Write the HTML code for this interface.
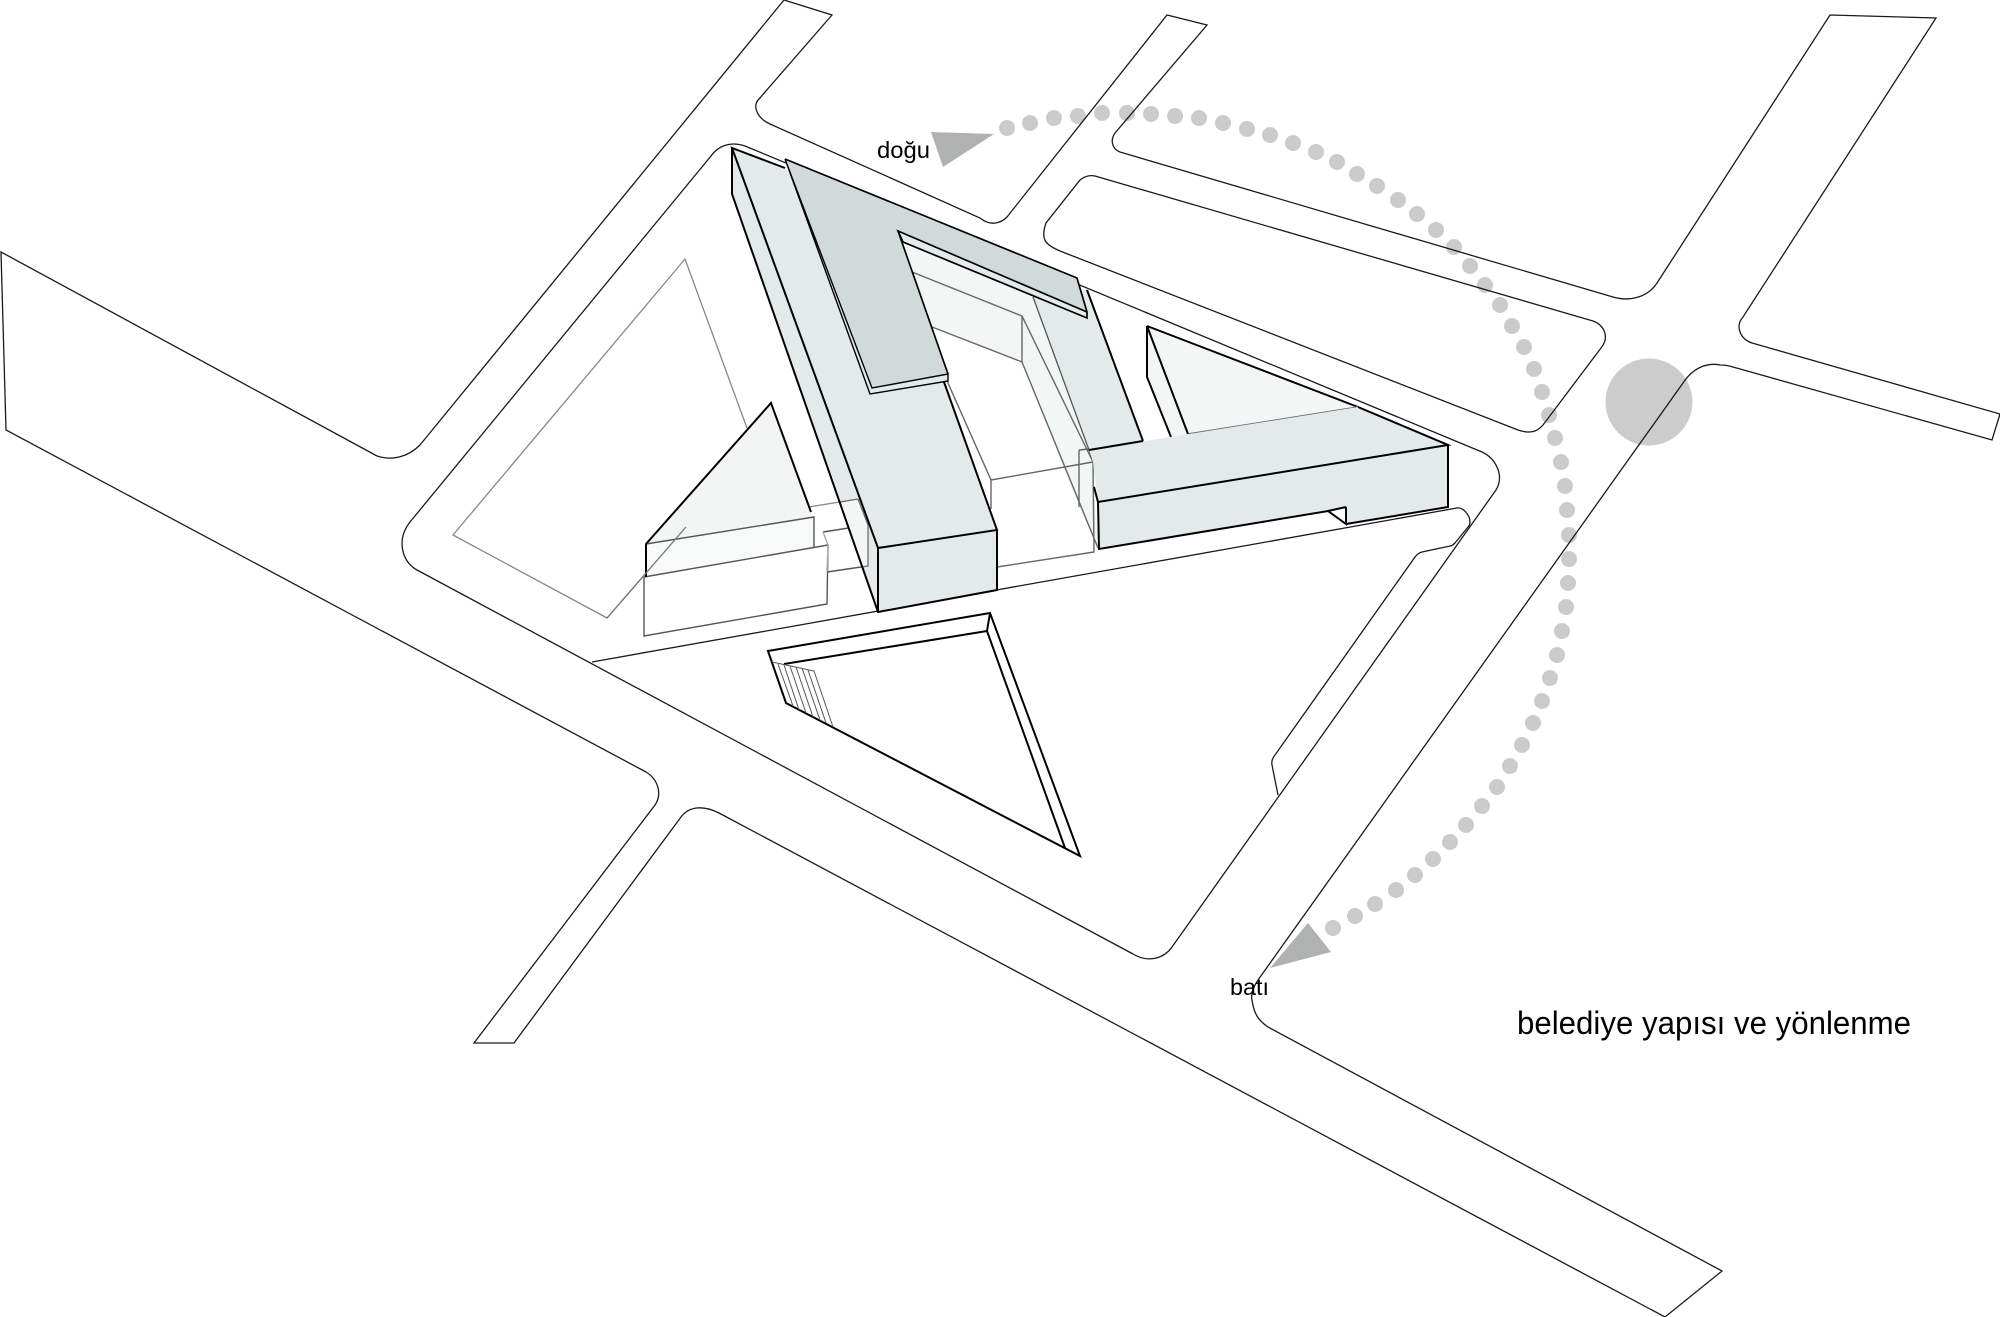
<!DOCTYPE html>
<html><head><meta charset="utf-8"><style>html,body{margin:0;padding:0;background:#fff}svg{display:block}text{font-family:"Liberation Sans",sans-serif;fill:#000}</style></head>
<body>
<svg width="2000" height="1317" viewBox="0 0 2000 1317" xmlns="http://www.w3.org/2000/svg">
<rect width="2000" height="1317" fill="#fff"/>
<circle cx="1649" cy="402" r="43.5" fill="#cccccc"/>
<!-- dots -->
<g fill="#cbcbcb">
<circle cx="1007" cy="128" r="8"/><circle cx="1030" cy="123" r="8"/><circle cx="1054" cy="118" r="8"/><circle cx="1078" cy="116" r="8"/><circle cx="1102" cy="113" r="8"/><circle cx="1127" cy="113" r="8"/><circle cx="1151" cy="114" r="8"/><circle cx="1175" cy="116" r="8"/><circle cx="1199" cy="118" r="8"/><circle cx="1223" cy="123" r="8"/><circle cx="1247" cy="129" r="8"/><circle cx="1270" cy="135" r="8"/><circle cx="1293" cy="143" r="8"/><circle cx="1316" cy="152" r="8"/><circle cx="1337" cy="162" r="8"/><circle cx="1357" cy="174" r="8"/><circle cx="1377" cy="186" r="8"/><circle cx="1398" cy="200" r="8"/><circle cx="1417" cy="214" r="8"/><circle cx="1436" cy="230" r="8"/><circle cx="1454" cy="247" r="8"/><circle cx="1470" cy="266" r="8"/><circle cx="1485" cy="285" r="8"/><circle cx="1500" cy="305" r="8"/><circle cx="1512" cy="326" r="8"/><circle cx="1524" cy="347" r="8"/><circle cx="1534" cy="369" r="8"/><circle cx="1542" cy="392" r="8"/><circle cx="1549" cy="415" r="8"/><circle cx="1555" cy="438" r="8"/><circle cx="1561" cy="462" r="8"/><circle cx="1565" cy="486" r="8"/><circle cx="1567" cy="510" r="8"/><circle cx="1569" cy="535" r="8"/><circle cx="1569" cy="559" r="8"/><circle cx="1568" cy="583" r="8"/><circle cx="1566" cy="607" r="8"/><circle cx="1562" cy="631" r="8"/><circle cx="1557" cy="655" r="8"/><circle cx="1550" cy="678" r="8"/><circle cx="1542" cy="701" r="8"/><circle cx="1533" cy="723" r="8"/><circle cx="1522" cy="745" r="8"/><circle cx="1510" cy="766" r="8"/><circle cx="1497" cy="787" r="8"/><circle cx="1482" cy="806" r="8"/><circle cx="1466" cy="825" r="8"/><circle cx="1450" cy="842" r="8"/><circle cx="1433" cy="859" r="8"/><circle cx="1415" cy="875" r="8"/><circle cx="1396" cy="890" r="8"/><circle cx="1375" cy="904" r="8"/><circle cx="1355" cy="916" r="8"/><circle cx="1333" cy="928" r="8"/>
</g>
<g fill="none" stroke="#1a1a1a" stroke-width="1.3">
<path d="M1 252L6 430L646 772C659 780 662 795 655 805L474 1043L514 1043L681 817C690 805 705 806 719 813L1665 1317L1722 1271L1268 1027C1258 1020 1254 1014 1252 1000Q1250 992 1258 980L1683 383C1692 369 1706 362 1720 365Q1727 365 1733 367L1992 440L2000 414L1752 343C1740 339 1735 326 1743 317L1936 18L1830 15L1657 283C1648 297 1630 302 1613 297L1120 152C1112 149 1110 140 1115 133L1207 25L1167 15L1007 217C1000 224 990 226 980 218L770 124C757 118 752 106 759 99L832 15L784 0L420 445C408 457 392 461 377 456Z"/>
<path d="M711 156C718 146 730 141 745 146L1482 452C1495 458 1505 475 1496 490L1172 947C1165 957 1150 964 1133 954L417 570C402 562 396 540 410 522Z"/>
<path d="M1080 180C1085 176 1090 175 1095 176L1593 321C1604 325 1610 337 1601 348L1543 425C1537 432 1530 434 1518 430L1060 251C1046 245 1040 240 1046 223Z"/>
<path d="M592 662L1457 508C1463 507 1470 515 1470 522Q1470 525 1468 527L1455 543Q1452 546 1450 546L1422 552Q1418 553 1415 557L1275 755Q1271 760 1272 765L1278 795"/>
</g>
<!-- left gray site outline -->
<path d="M747 428L685 259L453 535L607 618L686 527L858 499" fill="none" stroke="#888" stroke-width="1.3"/>
<!-- left building -->
<path d="M771 403L646 544L646 577L814 547L814 517L810 509Z" fill="#f2f5f4"/>
<path d="M646 544L814 517L814 547L644 577Z" fill="#f8faf9"/>
<g fill="none" stroke="#555" stroke-width="1.4">
<path d="M644 577L644 636L827 604L828 545L644 577"/>
<path d="M646 544L814 517L814 547"/>
<path d="M823 532L868 525L868 566L827 572"/>
<path d="M823 532L828 545" stroke="#aaa"/>
<path d="M828 545L827 572" stroke="#aaa"/>
</g>
<path d="M646 577L646 544L771 403L811 512" fill="none" stroke="#000" stroke-width="2"/>
<path d="M686 527L607 618" stroke="#777" stroke-width="1.3" fill="none"/>
<!-- courtyard glass -->
<path d="M903 242L1032 296L1091 451L1098 548L1079 507L1022 362L932 327Z" fill="#f2f6f5"/>
<g fill="none" stroke="#666" stroke-width="1.4">
<path d="M912 272L1022 316L1093 462L1094 552L997 567"/>
<path d="M932 327L1022 362L1098 548M1022 316L1022 362"/>
<path d="M1079 450L1079 507M1079 450L1089 449"/>
<path d="M944 374L991 480L991 509M991 480L1093 462"/>
</g>
<!-- right arm -->
<path d="M1033 297L1087 290L1143 441L1089 450Z" fill="#e4eaea"/>
<path d="M1033 297L1089 450L1093 462" fill="none" stroke="#555" stroke-width="1.3"/>
<path d="M1087 290L1143 441" fill="none" stroke="#000" stroke-width="2"/>
<!-- rear triangle -->
<path d="M1147 326L1147 377L1171 437L1188 434L1358 407Z" fill="#f2f6f5"/>
<path d="M1171 437L1147 377L1147 326L1188 434M1147 326L1358 407" fill="none" stroke="#000" stroke-width="2"/>
<path d="M1188 434L1358 407" fill="none" stroke="#666" stroke-width="1.4"/>
<!-- main building -->
<path d="M732 148L732 194L878 612L997 590L997 530L944 382L785 168Z" fill="#e4eaea"/>
<path d="M840 502L858 499L868 525L868 566L861 567Z" fill="#f2f6f5"/>
<path d="M840 502L858 499M868 525L868 566L861 567M858 499L868 525" fill="none" stroke="#666" stroke-width="1.2"/>
<path d="M785 168L732 148L878 548L997 530L944 382M732 148L732 194L878 612L997 590L997 530M878 548L878 612" fill="none" stroke="#000" stroke-width="2"/>
<!-- green roof -->
<path d="M785 159L1077 278L1087 312L898 231L948 374L872 388Z" fill="#d0dbd9"/>
<path d="M898 231L1087 312L1087 318L903 242Z" fill="#e4eaea"/>
<path d="M785 159L872 388L948 374L948 381L870 394Z" fill="#e4eaea"/>
<path d="M785 159L872 388L948 374L948 381L870 394L785 159" fill="none" stroke="#000" stroke-width="1.4"/>
<path d="M785 159L1077 278L1087 312L1087 318L903 242L898 231L1087 312M898 231L948 374" fill="none" stroke="#000" stroke-width="1.7"/>
<!-- east wing -->
<path d="M1089 450L1358 407L1448 445L1448 507L1346 524L1346 507L1328 511L1099 549L1098 502L1093 462Z" fill="#e4eaea"/>
<path d="M1143 441L1089 450M1094 487L1098 502L1448 445L1358 407M1098 502L1099 549L1328 511L1346 524L1346 507M1328 511L1346 507M1346 524L1448 507L1448 445" fill="none" stroke="#000" stroke-width="2"/>
<!-- south building -->
<g fill="none" stroke="#000" stroke-width="2">
<path d="M768 651L990 613L1080 856L786 703Z"/>
<path d="M784 664L987 631L1065 848M990 613L987 631"/>
</g>
<path d="M1065 848L1080 856" stroke="#000" stroke-width="1.2"/>
<path d="M772 662L814 671L833 727M778 664L793 706M784 665L799 710M790 666L806 713M796 667L813 717M802 668L820 720M808 670L826 723" fill="none" stroke="#555" stroke-width="1"/>
<polygon points="931,132 994,134 943,167" fill="#b0b2b2"/>
<polygon points="1308,923 1331,952 1270,968" fill="#b0b2b2"/>
<text x="877" y="158" font-size="23" textLength="53" lengthAdjust="spacingAndGlyphs">doğu</text>
<text x="1230" y="995" font-size="23" textLength="39" lengthAdjust="spacingAndGlyphs">batı</text>
<text x="1517" y="1034" font-size="32" textLength="394" lengthAdjust="spacingAndGlyphs">belediye yapısı ve yönlenme</text>
</svg>
</body></html>
